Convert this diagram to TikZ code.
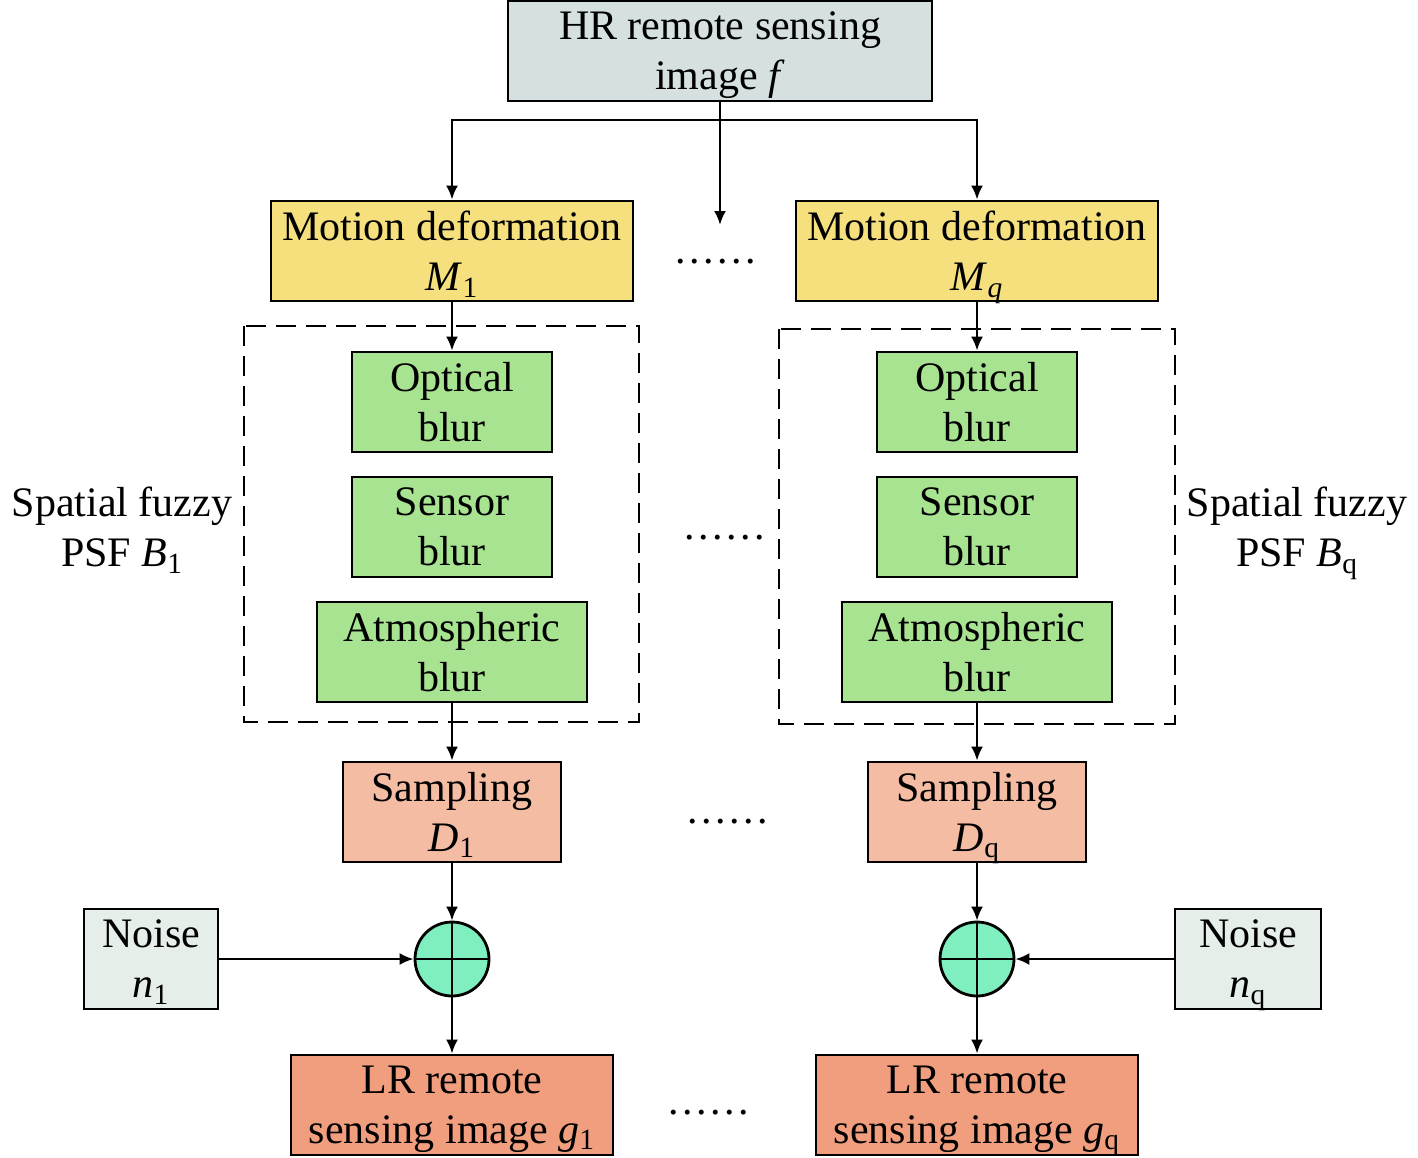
\documentclass[tikz,border=0pt]{standalone}
\usepackage{fontspec}
\setmainfont{Liberation Serif}
\usetikzlibrary{arrows.meta, positioning}

\definecolor{hrgray}{HTML}{D6E0E0}
\definecolor{motyellow}{HTML}{F6E07E}
\definecolor{blurgreen}{HTML}{A8E391}
\definecolor{samppink}{HTML}{F3BCA3}
\definecolor{summint}{HTML}{80EFC0}
\definecolor{noisegray}{HTML}{E6EEEA}
\definecolor{lrorange}{HTML}{F19E7E}
\newcommand{\gapdots}{.\kern1.8pt.\kern1.8pt.\kern1.8pt.\kern1.8pt.\kern1.8pt.}

\begin{document}
\begin{tikzpicture}[x=0.5pt, y=-0.5pt,
  box/.style={draw, line width=1.4pt, align=center, minimum height=50pt, inner sep=0pt,
    text depth=0pt, font=\fontsize{21}{25}\selectfont},
  sum/.style={circle, draw, line width=1.4pt, minimum size=37pt, inner sep=0pt, fill=summint},
  psf/.style={align=center, text depth=0pt, font=\fontsize{21}{25}\selectfont},
  dots/.style={font=\fontsize{21}{25}\selectfont},
  arr/.style={-{Latex[length=7pt,width=6pt]}, line width=1.2pt},
  dashbox/.style={line width=1.1pt, dash pattern=on 10pt off 5pt}]
\useasboundingbox (0,0) rectangle (1418,1157);

% input image
\node[box, fill=hrgray, minimum width=212pt] (hr) at (720,51) {HR remote sensing\\image \textit{f}};
\coordinate (split) at (720,120);
\coordinate (mid) at (720,225);

% branch 1
\begin{scope}[shift={(452,0)}]
\node[box, fill=motyellow, minimum width=181pt] (mot1) at (0,251) {Motion deformation\\\textit{M}\textsubscript{1}};
\node[box, fill=blurgreen, minimum width=100pt] (opt1) at (0,402) {Optical\\blur};
\node[box, fill=blurgreen, minimum width=100pt] (sen1) at (0,527) {Sensor\\blur};
\node[box, fill=blurgreen, minimum width=135pt] (atm1) at (0,652) {Atmospheric\\blur};
\node[box, fill=samppink, minimum width=109pt] (samp1) at (0,812) {Sampling\\\textit{D}\textsubscript{1}};
\node[sum] (sum1) at (0,959) {};
\node[box, fill=lrorange, minimum width=161pt] (lr1) at (0,1105) {LR remote\\sensing image \textit{g}\textsubscript{1}};
\node[box, fill=noisegray, minimum width=67pt] (noise1) at (-301,959) {Noise\\\textit{n}\textsubscript{1}};
\node[psf] (psf1) at (-330,527) {Spatial fuzzy\\PSF \textit{B}\textsubscript{1}};
\draw[dashbox] (-208,326) rectangle (187,722);
\end{scope}

% branch q
\begin{scope}[shift={(977,0)}]
\node[box, fill=motyellow, minimum width=181pt] (motq) at (0,251) {Motion deformation\\\textit{M}\textsubscript{\textit{q}}};
\node[box, fill=blurgreen, minimum width=100pt] (optq) at (0,402) {Optical\\blur};
\node[box, fill=blurgreen, minimum width=100pt] (senq) at (0,527) {Sensor\\blur};
\node[box, fill=blurgreen, minimum width=135pt] (atmq) at (0,652) {Atmospheric\\blur};
\node[box, fill=samppink, minimum width=109pt] (sampq) at (0,812) {Sampling\\\textit{D}\textsubscript{q}};
\node[sum] (sumq) at (0,959) {};
\node[box, fill=lrorange, minimum width=161pt] (lrq) at (0,1105) {LR remote\\sensing image \textit{g}\textsubscript{q}};
\node[box, fill=noisegray, minimum width=73pt] (noiseq) at (271,959) {Noise\\\textit{n}\textsubscript{q}};
\node[psf] (psfq) at (320,527) {Spatial fuzzy\\PSF \textit{B}\textsubscript{q}};
\draw[dashbox] (-198,329) rectangle (198,724);
\end{scope}

% dots between branches
\node[dots] (dotsa) at (716,262) {\gapdots};
\node[dots] (dotsb) at (725,538) {\gapdots};
\node[dots] (dotsc) at (728,822) {\gapdots};
\node[dots] (dotsd) at (709,1113) {\gapdots};

% connectors
\draw[line width=1.2pt] (hr.south) -- (split);
\draw[line width=1.2pt] (mot1.north |- split) -- (motq.north |- split);
\draw[arr] (split) -- (mid);
\draw[arr] (split) -| (mot1.north);
\draw[arr] (split) -| (motq.north);
\foreach \b in {1,q} {
  \draw[arr] (mot\b.south) -- (opt\b.north);
  \draw[arr] (atm\b.south) -- (samp\b.north);
  \draw[arr] (samp\b.south) -- (sum\b.north);
  \draw[arr] (sum\b.south) -- (lr\b.north);
  \draw[arr] (noise\b) -- (sum\b);
  \draw[line width=1.2pt] (sum\b.north) -- (sum\b.south) (sum\b.west) -- (sum\b.east);
}
\end{tikzpicture}
\end{document}
